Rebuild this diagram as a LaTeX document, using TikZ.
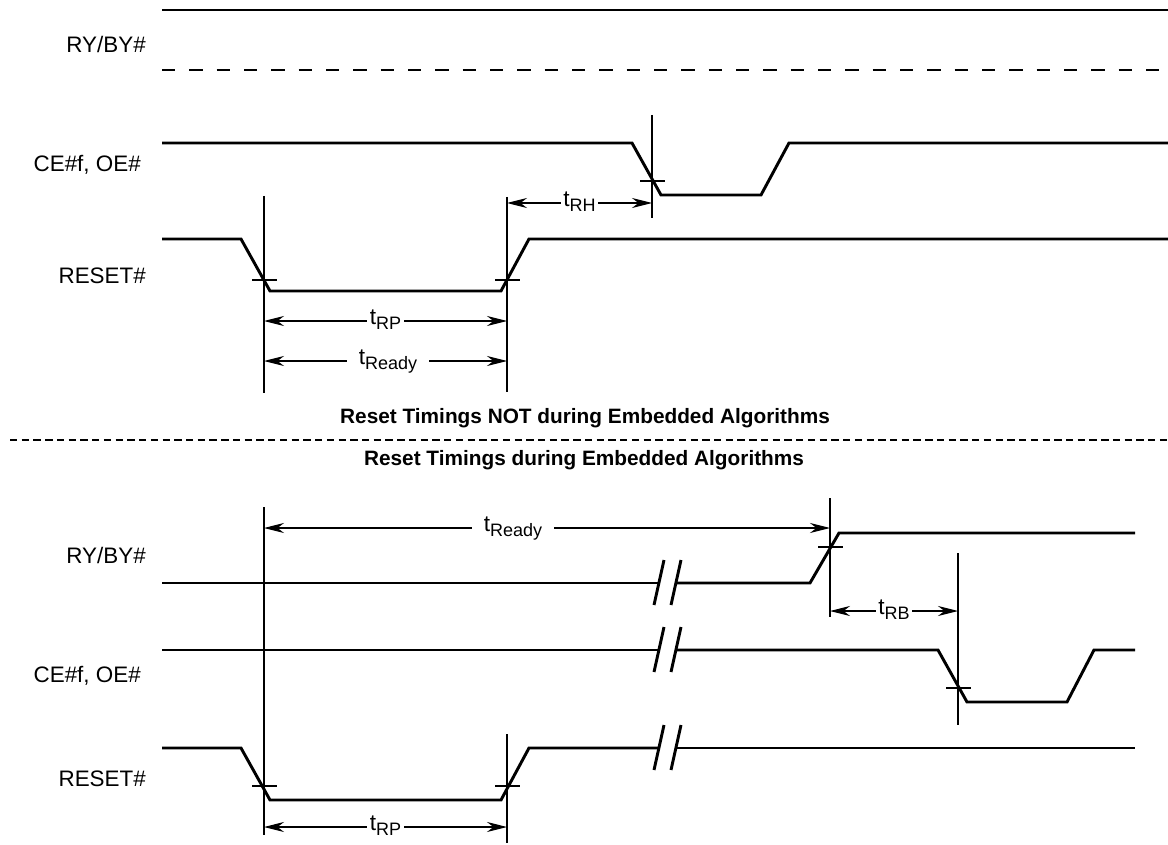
\documentclass[tikz,border=0pt]{standalone}
\usepackage{fontspec}
\setmainfont{Liberation Sans}
\usetikzlibrary{arrows.meta}
\newcommand{\tlab}[1]{t\raisebox{-4pt}{\fontsize{13.5}{14}\selectfont #1}}

\begin{document}
\begin{tikzpicture}[x=0.75pt,y=-0.75pt,
    sig/.style={line width=2.2pt,line join=miter},
    guide/.style={line width=0.9pt},
    dim/.style={line width=0.8pt,{Stealth[length=15pt,width=7.5pt]}-{Stealth[length=15pt,width=7.5pt]}},
    siglbl/.style={font=\fontsize{16.8}{20}\selectfont,anchor=base east,inner sep=0pt},
    tlbl/.style={font=\fontsize{17}{20}\selectfont,fill=white,inner sep=2pt,anchor=mid},
    caption/.style={font=\bfseries\fontsize{15.6}{18}\selectfont,anchor=base,inner sep=0pt}]
  \useasboundingbox (0,0) rectangle (1168,845);

  % The signal names.
  \node[siglbl] (ryA) at (146,53) {RY/BY\#};
  \node[siglbl] (ceA) at (141,172) {CE\#f, OE\#};
  \node[siglbl] (rstA) at (146,283) {RESET\#};
  \node[siglbl] (ryB) at (146,563) {RY/BY\#};
  \node[siglbl] (ceB) at (141,682) {CE\#f, OE\#};
  \node[siglbl] (rstB) at (146,786) {RESET\#};

  % Reset NOT during an embedded algorithm.
  \draw[sig] (162,10) -- (1168,10);
  \draw[sig,dash pattern=on 10pt off 10.5pt] (162,70) -- (1168,70);
  \draw[sig] (162,143) -- (632,143) -- (661,195) -- (761,195) -- (789,143) -- (1168,143);
  \draw[sig] (162,239) -- (241,239) -- (270,291) -- (501,291) -- (529,239) -- (1168,239);
  \coordinate (fallA) at (264,280);
  \coordinate (riseA) at (507,280);
  \coordinate (ceLowA) at (652,181);
  \draw[guide] (264,196) -- (264,393);
  \draw[guide] (507,197) -- (507,392);
  \draw[guide] (652,115) -- (652,218);
  \foreach \c in {fallA,riseA,ceLowA}
    \draw[guide] ([xshift=-9pt]\c) -- ([xshift=10pt]\c);
  \coordinate (rpL) at (264,321);  \coordinate (rpR) at (507,321);
  \coordinate (rdyL) at (264,361); \coordinate (rdyR) at (507,361);
  \coordinate (rhL) at (507,203);  \coordinate (rhR) at (652,203);
  \draw[dim] (rpL) -- node[tlbl] (tRPA) {\tlab{RP}} (rpR);
  \draw[dim] (rdyL) -- node[tlbl,pos=0.51,inner xsep=9pt] (tRdyA) {\tlab{Ready}} (rdyR);
  \draw[dim] (rhL) -- node[tlbl] (tRH) {\tlab{RH}} (rhR);

  % The two captions and the rule between them.
  \node[caption] (capA) at (585,423) {Reset Timings NOT during Embedded Algorithms};
  \draw[line width=2pt,dash pattern=on 5.5pt off 3.3pt] (10,440) -- (1168,440);
  \node[caption] (capB) at (584,465) {Reset Timings during Embedded Algorithms};

  % Reset during an embedded algorithm.
  \draw[sig] (162,583) -- (659,583);
  \draw[sig] (676,583) -- (810,583) -- (839,533) -- (1135,533);
  \draw[sig] (162,650) -- (659,650);
  \draw[sig] (676,650) -- (938,650) -- (967,702) -- (1067,702) -- (1094,650) -- (1135,650);
  \draw[sig] (162,748) -- (241,748) -- (270,800) -- (501,800) -- (529,748) -- (659,748);
  \draw[sig] (676,748) -- (1135,748);
  \foreach \y in {583,650,748} {
    \draw[sig] (654,\y+22) -- (664,\y-23);
    \draw[sig] (671,\y+22) -- (681,\y-23);
  }
  \coordinate (fallB) at (264,786);
  \coordinate (riseB) at (507,786);
  \coordinate (ryHigh) at (830,547);
  \coordinate (ceLowB) at (958,688);
  \draw[guide] (264,507) -- (264,835);
  \draw[guide] (507,734) -- (507,843);
  \draw[guide] (830,498) -- (830,617);
  \draw[guide] (958,553) -- (958,725);
  \foreach \c in {fallB,riseB,ryHigh,ceLowB}
    \draw[guide] ([xshift=-9pt]\c) -- ([xshift=10pt]\c);
  \coordinate (rdyBL) at (264,528); \coordinate (rdyBR) at (830,528);
  \coordinate (rbL) at (830,611);   \coordinate (rbR) at (958,611);
  \coordinate (rpBL) at (264,827);  \coordinate (rpBR) at (507,827);
  \draw[dim] (rdyBL) -- node[tlbl,pos=0.44,inner xsep=9pt] (tRdyB) {\tlab{Ready}} (rdyBR);
  \draw[dim] (rbL) -- node[tlbl] (tRB) {\tlab{RB}} (rbR);
  \draw[dim] (rpBL) -- node[tlbl] (tRPB) {\tlab{RP}} (rpBR);
\end{tikzpicture}
\end{document}
